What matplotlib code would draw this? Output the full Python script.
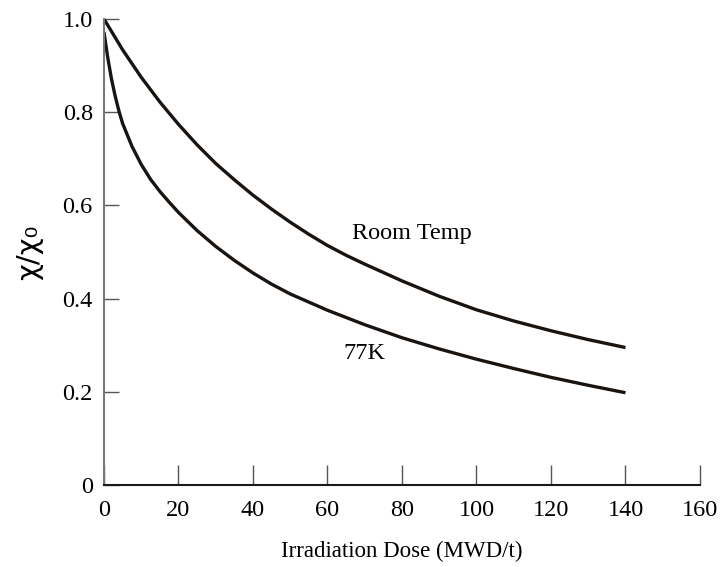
import matplotlib
matplotlib.use('Agg')
import matplotlib.pyplot as plt

plt.rcParams['font.family'] = ['Liberation Serif', 'DejaVu Serif']

# values
dose_room = [0, 5, 10, 15, 20, 25, 30, 35, 40, 45, 50, 55, 60, 65, 70, 80,
             90, 100, 110, 120, 130, 140]
chi_room = [1.00, 0.934, 0.875, 0.822, 0.774, 0.730, 0.690, 0.655, 0.622,
            0.592, 0.564, 0.538, 0.514, 0.493, 0.474, 0.438, 0.405, 0.376,
            0.352, 0.331, 0.312, 0.295]

dose_77k = [0, 1, 2, 3, 4, 5, 7.5, 10, 12.5, 15, 17.5, 20, 25, 30, 35, 40,
            45, 50, 60, 70, 80, 90, 100, 110, 120, 130, 140]
chi_77k = [0.972, 0.918, 0.872, 0.835, 0.803, 0.776, 0.727, 0.688, 0.656,
           0.630, 0.607, 0.585, 0.546, 0.512, 0.482, 0.455, 0.431, 0.410,
           0.375, 0.344, 0.316, 0.292, 0.270, 0.250, 0.231, 0.214, 0.198]

xticks = [0, 20, 40, 60, 80, 100, 120, 140, 160]
yticks = [0, 0.2, 0.4, 0.6, 0.8, 1.0]
yticklabels = ['0', '0.2', '0.4', '0.6', '0.8', '1.0']

fig = plt.figure(figsize=(7.25, 5.67), dpi=100)
ax = fig.add_axes([0.1434, 0.1446, 0.8221, 0.8219])

for xs, ys in [(dose_room, chi_room), (dose_77k, chi_77k)]:
    ax.plot(xs, ys, color='#1a1410', lw=2.4, solid_joinstyle='round',
            solid_capstyle='butt')

ax.text(82.7, 0.54, 'Room Temp', fontsize=17.5, ha='center', va='center')
ax.text(70, 0.283, '77K', fontsize=17.5, ha='center', va='center')

ax.set_xlim(0, 160)
ax.set_ylim(0, 1.0)
ax.set_xticks(xticks)
ax.set_yticks(yticks)
ax.set_yticklabels(yticklabels)

for s in ['top', 'right']:
    ax.spines[s].set_visible(False)
ax.spines['bottom'].set_color('#1a1a1a')
ax.spines['left'].set_color('#777777')
ax.spines['bottom'].set_linewidth(1.5)
ax.spines['left'].set_linewidth(1.5)

ax.tick_params(axis='x', direction='in', length=14.5, width=1.0,
               color='#555555', pad=11, labelsize=17.5)
ax.tick_params(axis='y', direction='in', length=11, width=1.0,
               color='#555555', pad=8, labelsize=17.5)

ax.set_xlabel('Irradiation Dose (MWD/t)', fontsize=16.5, labelpad=14)
ax.set_ylabel('χ/χ₀', fontsize=21, family=['DejaVu Sans'], labelpad=14)

fig.savefig('out.png', dpi=100)
